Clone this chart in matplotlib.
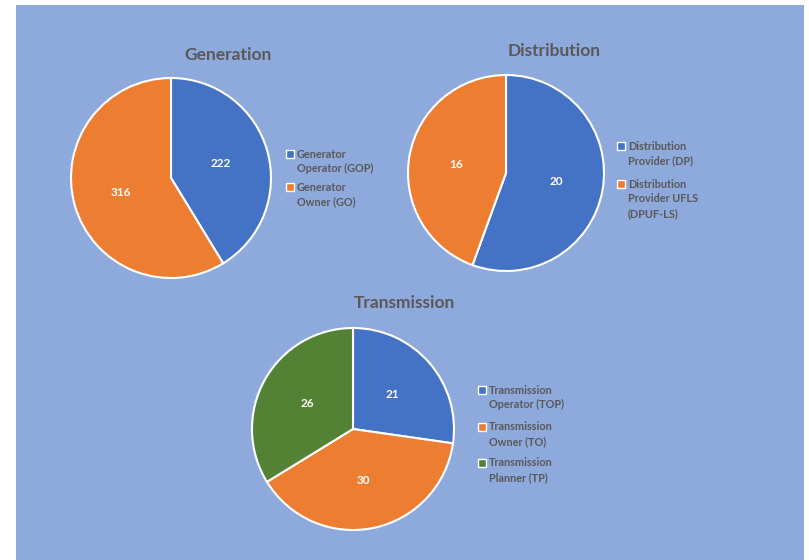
import matplotlib.pyplot as plt
from matplotlib.patches import Rectangle

W, H = 809, 560
DPI = 100

BG = "#8EA9DB"
BLUE = "#4472C4"
ORANGE = "#ED7D31"
GREEN = "#548235"
GREY = "#595959"
FONT = "Lato"

gen_labels = ["Generator\nOperator (GOP)", "Generator\nOwner (GO)"]
gen_values = [222, 316]

dist_labels = ["Distribution\nProvider (DP)", "Distribution\nProvider UFLS\n(DPUF-LS)"]
dist_values = [20, 16]

trans_labels = ["Transmission\nOperator (TOP)", "Transmission\nOwner (TO)", "Transmission\nPlanner (TP)"]
trans_values = [21, 30, 26]

fig = plt.figure(figsize=(W / DPI, H / DPI), dpi=DPI)
fig.patch.set_facecolor("white")

# light-blue chart area
fig.add_artist(Rectangle((16 / W, 0), (804 - 16) / W, (H - 5) / H,
                         transform=fig.transFigure, facecolor=BG,
                         edgecolor="none", zorder=0))


def px_axes(cx, cy, r):
    """Square axes centred on pixel (cx, cy) with radius r (pixels from top-left)."""
    return fig.add_axes([(cx - r) / W, (H - cy - r) / H, 2 * r / W, 2 * r / H])


def draw_pie(cx, cy, r, values, labels, colors, title, title_xy, leg_xy, leg_gaps):
    ax = px_axes(cx, cy, r)
    ax.pie(
        values, colors=colors, startangle=90, counterclock=False,
        radius=1.0, autopct=lambda p, v=values: f"{round(p * sum(v) / 100):d}",
        pctdistance=0.52,
        wedgeprops=dict(edgecolor="white", linewidth=1.5),
        textprops=dict(color="white", fontsize=8.5, fontweight="bold", family=FONT))
    ax.set_xlim(-1.0, 1.0)
    ax.set_ylim(-1.0, 1.0)
    ax.set_aspect("equal")
    ax.axis("off")
    fig.text(title_xy[0] / W, 1 - title_xy[1] / H, title, ha="center", va="center",
             fontsize=12.5, fontweight="bold", color=GREY, family=FONT)
    # legend entries
    lx, ly = leg_xy
    y = ly
    for lab, col, gap in zip(labels, colors, leg_gaps):
        fig.add_artist(Rectangle(((lx - 4) / W, 1 - (y + 4) / H), 8 / W, 8 / H,
                                 transform=fig.transFigure, facecolor=col,
                                 edgecolor="white", linewidth=1.0))
        fig.text((lx + 7) / W, 1 - (y - 5.5) / H, lab, ha="left", va="top",
                 fontsize=7.8, fontweight="bold", color=GREY, family=FONT,
                 linespacing=1.4)
        y += gap
    return ax


draw_pie(171, 178, 100, gen_values, gen_labels, [BLUE, ORANGE],
         "Generation", (228, 55), (290, 154), [33, 0])
draw_pie(506, 173, 98, dist_values, dist_labels, [BLUE, ORANGE],
         "Distribution", (554, 51), (621, 146), [38, 0])
draw_pie(353, 429, 101, trans_values, trans_labels, [BLUE, ORANGE, GREEN],
         "Transmission", (404, 303), (482, 390), [37, 36, 0])

fig.savefig("out.png", dpi=DPI, facecolor=fig.get_facecolor())
